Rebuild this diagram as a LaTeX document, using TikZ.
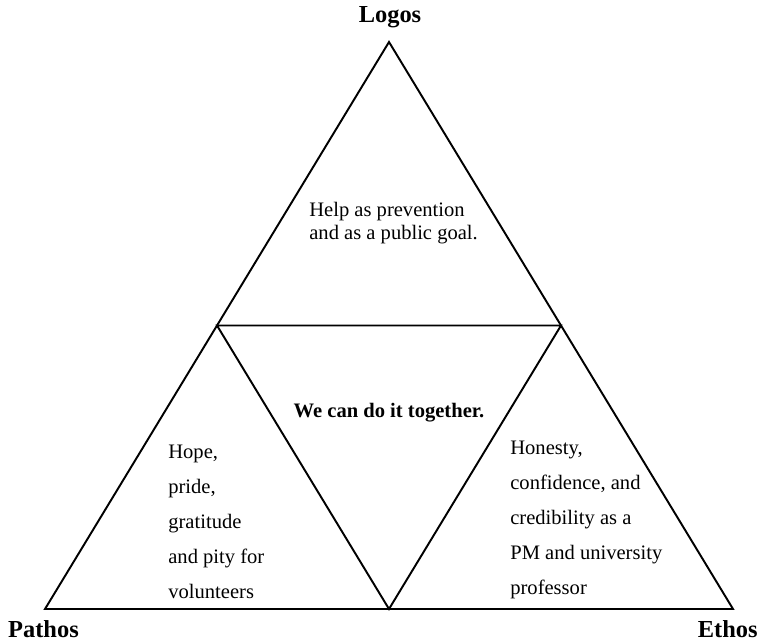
\documentclass[tikz,border=0pt]{standalone}
\usepackage{fontspec}
\setmainfont{Liberation Serif}
\usepackage{tikz}
\usetikzlibrary{calc,positioning}

\tikzset{
    edge/.style={line width=1.1pt,line join=miter},
    corner/.style={font=\fontsize{13.9}{16}\selectfont\bfseries,inner sep=0pt},
    appeal/.style={font=\fontsize{11.7}{13.1}\selectfont,align=left,inner sep=0pt},
    spaced/.style={font=\fontsize{11.7}{19.9}\selectfont,align=left,inner sep=0pt}
}

\begin{document}
\begin{tikzpicture}
    \useasboundingbox (0,0) rectangle (15.28,12.84);
    % outer corners and side midpoints
    \coordinate (top) at (7.78,12.0);
    \coordinate (left) at (0.9,0.66);
    \coordinate (right) at (14.66,0.66);
    \coordinate (midL) at ($(left)!0.5!(top)$);
    \coordinate (midR) at ($(right)!0.5!(top)$);
    \coordinate (midB) at ($(left)!0.5!(right)$);

    \draw[edge] (top) -- (left) -- (right) -- cycle;
    \draw[edge] (midL) -- (midR) -- (midB) -- cycle;

    % corner labels
    \node[corner] (logos) at (7.8,12.5) {Logos};
    \node[corner] (pathos) at (0.87,0.26) {Pathos};
    \node[corner,anchor=east] (ethos) at (15.16,0.26) {Ethos};

    % contents of the four small triangles
    \node[appeal,anchor=west] (logostext) at (6.18,8.37) {Help as prevention\\and as a public goal.};
    \node[appeal,font=\fontsize{11.7}{13.1}\selectfont\bfseries] (together) at (7.78,4.58) {We can do it together.};
    \node[spaced,anchor=west] (pathostext) at (3.36,2.4) {Hope,\\pride,\\gratitude\\and pity for\\volunteers};
    \node[spaced,anchor=west] (ethostext) at (10.2,2.44) {Honesty,\\confidence, and\\credibility as a\\PM and university\\professor};
\end{tikzpicture}
\end{document}
